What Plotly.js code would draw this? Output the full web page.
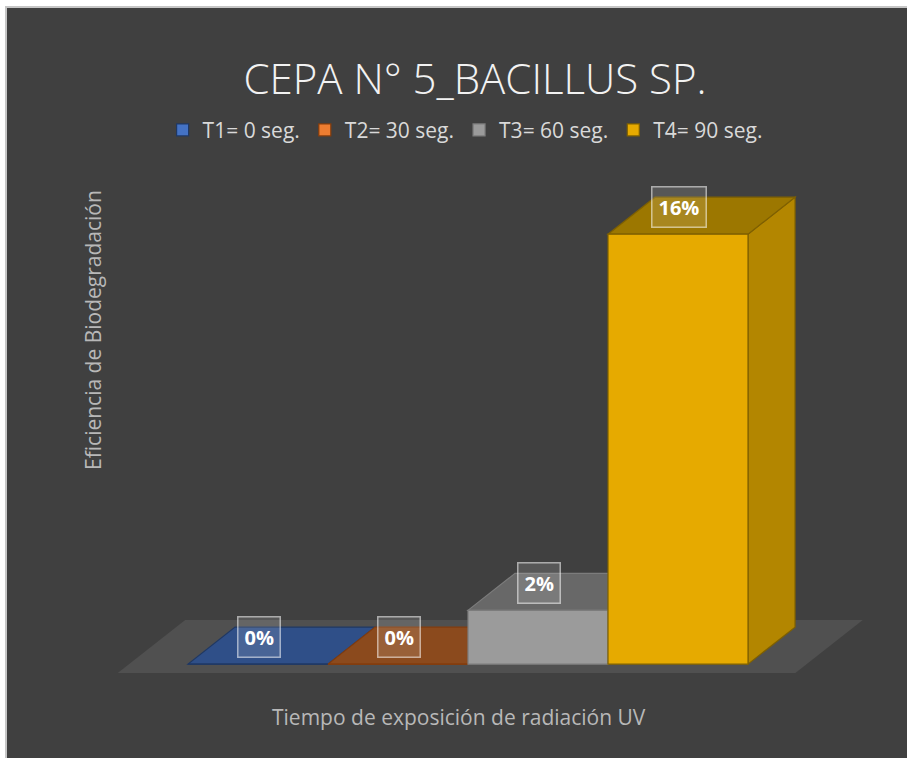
<!DOCTYPE html>
<html><head><meta charset="utf-8">
<script src="https://cdn.plot.ly/plotly-3.0.1.min.js"></script>
<style>
html,body{margin:0;padding:0;background:#fff;width:907px;height:758px;overflow:hidden}
#frame{position:absolute;left:5px;top:6px;width:902px;height:752px;border-left:2px solid #c6c6c6;border-top:2px solid #c6c6c6;background:#404040;overflow:hidden}
#chart{position:absolute;left:0;top:0;width:900px;height:750px}
</style></head><body>
<div id="frame"><div id="chart"></div></div>
<script>
// ---- data ----
const categories = ['T1= 0 seg.', 'T2= 30 seg.', 'T3= 60 seg.', 'T4= 90 seg.'];
const values = [0, 0, 2, 16];           // % efficiency
const chartTitle = 'CEPA N° 5_BACILLUS SP.';
const xTitle = 'Tiempo de exposición de radiación UV';
const yTitle = 'Eficiencia de Biodegradación';

// ---- style ----
const frontColors = ['#4472c4', '#ed7d31', '#9b9b9b', '#e6aa00'];
const topColors   = ['#2f4f88', '#8b4a1d', '#686868', '#9c7700'];
const sideColors  = ['#2f4f88', '#8b4a1d', '#7a7a7a', '#b38600'];
const edgeColors  = ['#1f3864', '#843c0c', '#7c7c7c', '#7f6000'];
const DX = 0.336, DY = 1.377;           // oblique depth offset (x units, y units)
const FLOOR_PAD = 0.42, FLOOR_D0 = -0.243, FLOOR_D1 = 1.19;

const xs = categories.map((c, i) => i);

const traces = categories.map((c, i) => ({
  type: 'bar', name: c, x: [xs[i]], y: [values[i]], width: 1,
  marker: {color: frontColors[i], line: {color: edgeColors[i], width: 1.2}},
  hoverinfo: 'skip'
}));

function pt(x, y) { return x + ',' + y; }
function poly(p) { return 'M' + p.map(q => pt(q[0], q[1])).join('L') + 'Z'; }

const shapes = [];
// floor
const fx0 = xs[0] - 0.5 - FLOOR_PAD, fx1 = xs[xs.length - 1] + 0.5 + FLOOR_PAD;
shapes.push({type: 'path', xref: 'x', yref: 'y', layer: 'below',
  path: poly([[fx0 + FLOOR_D0 * DX, FLOOR_D0 * DY], [fx1 + FLOOR_D0 * DX, FLOOR_D0 * DY],
              [fx1 + FLOOR_D1 * DX, FLOOR_D1 * DY], [fx0 + FLOOR_D1 * DX, FLOOR_D1 * DY]]),
  fillcolor: '#505050', line: {width: 0}});
// top & side faces
xs.forEach((x, i) => {
  const v = values[i], x0 = x - 0.5, x1 = x + 0.5;
  if (v > 0) {
    shapes.push({type: 'path', xref: 'x', yref: 'y', layer: 'below',
      path: poly([[x1, 0], [x1, v], [x1 + DX, v + DY], [x1 + DX, DY]]),
      fillcolor: sideColors[i], line: {color: edgeColors[i], width: 1.2}});
  }
  shapes.push({type: 'path', xref: 'x', yref: 'y', layer: 'below',
    path: poly([[x0, v], [x1, v], [x1 + DX, v + DY], [x0 + DX, v + DY]]),
    fillcolor: topColors[i], line: {color: edgeColors[i], width: 1.2}});
});

const annotations = xs.map((x, i) => ({
  x: x, y: values[i], xref: 'x', yref: 'y', text: values[i] + '%', showarrow: false,
  xshift: 1, yshift: 27,
  font: {family: 'Open Sans', size: 20, color: '#ffffff', weight: 'bold'},
  bgcolor: 'rgba(255,255,255,0.12)', bordercolor: 'rgba(255,255,255,0.55)', borderwidth: 1.5, borderpad: 6
}));
annotations.push({xref: 'paper', yref: 'paper', x: 0.445, y: -0.05, text: xTitle, showarrow: false,
  xanchor: 'center', yanchor: 'middle', font: {family: 'Open Sans', size: 21, color: '#b8b8b8'}});
annotations.push({xref: 'paper', yref: 'paper', x: -0.0138, y: 0.689, text: yTitle, showarrow: false,
  textangle: -90, xanchor: 'center', yanchor: 'middle', font: {family: 'Open Sans', size: 21, color: '#b8b8b8'}});

const layout = {
  width: 900, height: 750,
  paper_bgcolor: '#404040', plot_bgcolor: 'rgba(0,0,0,0)',
  margin: {l: 97, r: 5, t: 159, b: 67},
  barmode: 'overlay',
  title: {text: chartTitle, xref: 'container', yref: 'container', x: 0.52, y: 0.905,
    xanchor: 'center', yanchor: 'middle',
    font: {family: 'Open Sans', size: 42, color: '#f2f2f2', weight: 300}},
  xaxis: {type: 'linear', range: [-1.1, 4.6], showgrid: false, zeroline: false, showline: false,
    showticklabels: false, ticks: '', fixedrange: true},
  yaxis: {range: [-1, 18.5], showgrid: false, zeroline: false, showline: false,
    showticklabels: false, ticks: '', fixedrange: true},
  showlegend: true,
  legend: {orientation: 'h', xref: 'container', yref: 'container', x: 0.509, y: 0.837,
    xanchor: 'center', yanchor: 'middle', bgcolor: 'rgba(0,0,0,0)',
    font: {family: 'Open Sans', size: 21, color: '#d9d9d9'}, itemwidth: 30, traceorder: 'normal'},
  shapes: shapes, annotations: annotations
};

Plotly.newPlot('chart', traces, layout, {displayModeBar: false, staticPlot: true});
</script>
</body></html>
